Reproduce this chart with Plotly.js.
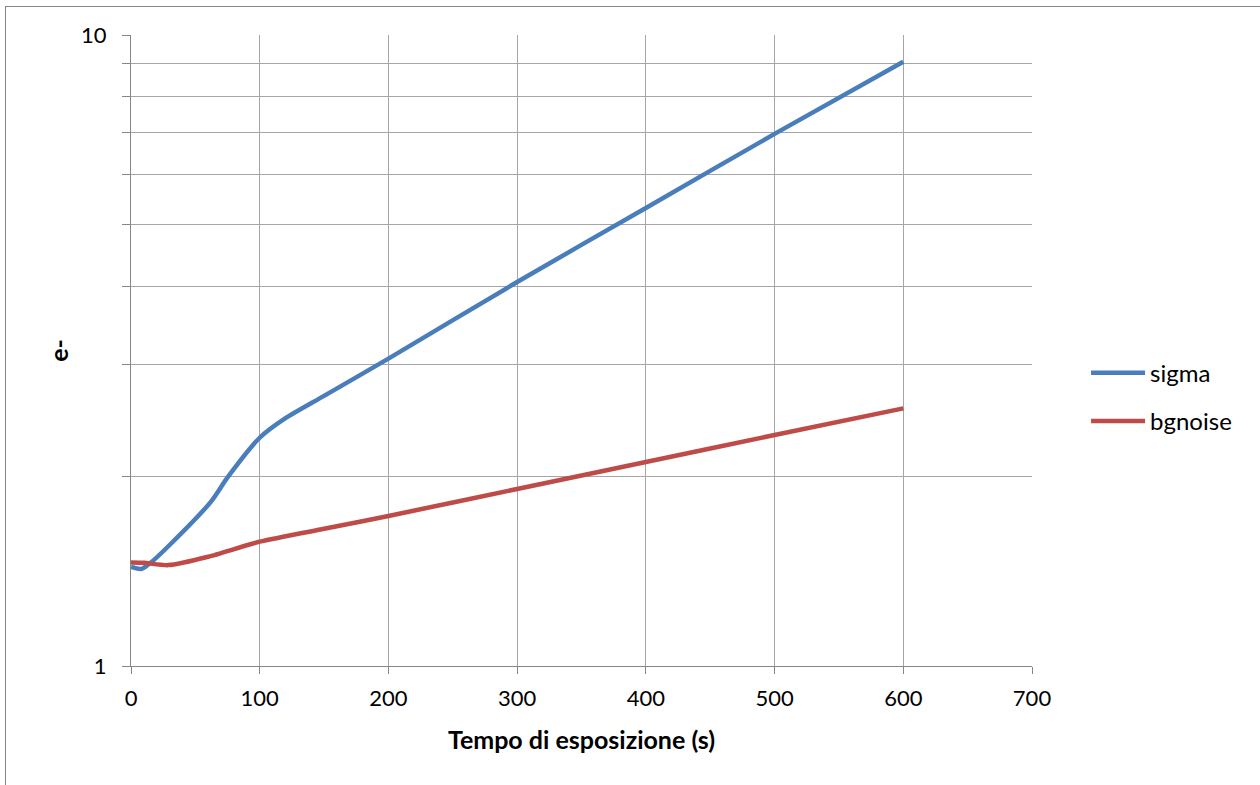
<!DOCTYPE html>
<html>
<head>
<meta charset="utf-8">
<script src="https://cdn.plot.ly/plotly-3.0.1.min.js"></script>
<style>
  html, body { margin: 0; padding: 0; background: #fff; }
  #wrap { position: relative; width: 1260px; height: 785px; overflow: hidden; }
  #frame { position: absolute; left: 5px; top: 6px; width: 2000px; height: 2000px;
           border-left: 1px solid #868686; border-top: 1px solid #868686; pointer-events: none; }
  #chart { position: absolute; left: 0; top: 0; width: 1260px; height: 785px; }
</style>
</head>
<body>
<div id="wrap">
  <div id="chart"></div>
  <div id="frame"></div>
</div>
<script>
const sigmaX = [0, 8, 15, 30, 62, 75, 100, 120, 150, 200, 300, 400, 500, 600];
const sigmaY = [1.435, 1.425, 1.456, 1.555, 1.82, 1.99, 2.30, 2.47, 2.68, 3.07, 4.06, 5.32, 6.97, 9.07];
const bgX = [0, 10, 29, 60, 100, 150, 200, 300, 400, 500, 600];
const bgY = [1.459, 1.457, 1.445, 1.49, 1.574, 1.65, 1.729, 1.908, 2.105, 2.323, 2.56];
const xTicks = [0, 100, 200, 300, 400, 500, 600, 700];
const yTicks = [1, 2, 3, 4, 5, 6, 7, 8, 9, 10];
const yTickText = ['1', '', '', '', '', '', '', '', '', '10'];

const font = 'Lato, "Open Sans", "Noto Sans", sans-serif';

const traces = [
  { x: sigmaX, y: sigmaY, name: 'sigma', type: 'scatter', mode: 'lines',
    line: { color: '#4A7EBB', width: 4.5, shape: 'spline', smoothing: 0.7 }, legendgroup: 'a' },
  { x: bgX, y: bgY, name: 'bgnoise', type: 'scatter', mode: 'lines',
    line: { color: '#BE4B48', width: 4.5, shape: 'spline', smoothing: 0.6 }, legendgroup: 'b' }
];

const layout = {
  width: 1260, height: 785,
  margin: { l: 131, r: 228, t: 35, b: 119 },
  paper_bgcolor: 'rgba(0,0,0,0)', plot_bgcolor: '#fff',
  font: { family: font, size: 22, color: '#000' },
  showlegend: true,
  legend: { x: 1.06, y: 0.426, xanchor: 'left', yanchor: 'middle',
            traceorder: 'grouped', tracegroupgap: 14, itemwidth: 54,
            font: { family: font, size: 24, color: '#000' }, bgcolor: 'rgba(0,0,0,0)' },
  xaxis: {
    range: [0, 700], tickvals: xTicks, ticks: 'outside', ticklen: 7, tickcolor: '#868686',
    ticklabelstandoff: 6,
    showgrid: true, gridcolor: '#a6a6a6', gridwidth: 1,
    showline: true, linecolor: '#868686', linewidth: 1, zeroline: false,
    tickfont: { family: font, size: 22 },
    title: { text: '<b>Tempo di esposizione (s)</b>', font: { family: font, size: 25 }, standoff: 21 }
  },
  yaxis: {
    type: 'log', range: [0, 1], tickvals: yTicks, ticktext: yTickText,
    ticks: 'outside', ticklen: 8, tickcolor: '#868686',
    ticklabelstandoff: 11,
    showgrid: true, gridcolor: '#a6a6a6', gridwidth: 1,
    showline: true, linecolor: '#868686', linewidth: 1, zeroline: false,
    tickfont: { family: font, size: 22 },
    title: { text: '<b>e-</b>', font: { family: font, size: 25 }, standoff: 5 }
  }
};

Plotly.newPlot('chart', traces, layout, { displayModeBar: false, staticPlot: true });
</script>
</body>
</html>
